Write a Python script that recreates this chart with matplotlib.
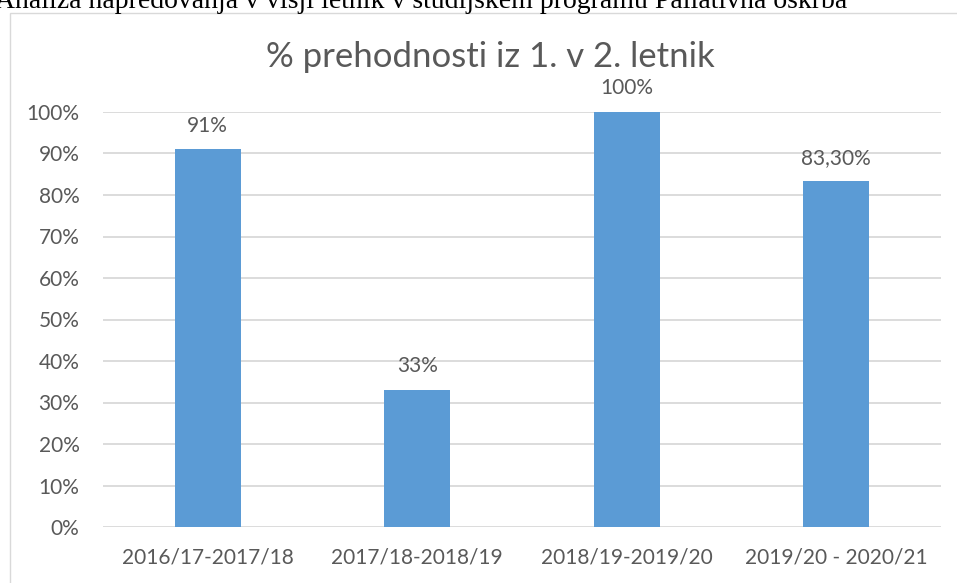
import matplotlib.pyplot as plt
from matplotlib.patches import Rectangle
from matplotlib.ticker import PercentFormatter

categories = ["2016/17-2017/18", "2017/18-2018/19", "2018/19-2019/20", "2019/20 - 2020/21"]
values = [91, 33, 100, 83.3]
value_labels = ["91%", "33%", "100%", "83,30%"]

bar_color = "#5B9BD5"
text_color = "#595959"
grid_color = "#D9D9D9"

plt.rcParams['font.family'] = ['Lato', 'DejaVu Sans']

W, H = 957, 583
fig = plt.figure(figsize=(W / 100, H / 100), dpi=100)
ax = fig.add_axes([103 / W, 1 - 527 / H, 838 / W, 415 / H])

x = range(len(categories))
ax.bar(x, values, width=0.315, color=bar_color, zorder=3)
for xi, v, lab in zip(x, values, value_labels):
    ax.annotate(lab, (xi, v), xytext=(0, 17), textcoords="offset points",
                ha="center", va="center", fontsize=15, color=text_color)

ax.set_xlim(-0.5, len(categories) - 0.5)
ax.set_ylim(0, 100)
ax.set_yticks(range(0, 101, 10))
ax.yaxis.set_major_formatter(PercentFormatter(decimals=0))
ax.set_xticks(list(x))
ax.set_xticklabels(categories)
ax.tick_params(axis="both", length=0, labelsize=15, labelcolor=text_color)
ax.tick_params(axis="x", pad=15)
ax.tick_params(axis="y", pad=17)
ax.grid(axis="y", color=grid_color, linewidth=1.3, zorder=0)
for s in ax.spines.values():
    s.set_visible(False)

fig.text(490 / W, 1 - 57 / H, "% prehodnosti iz 1. v 2. letnik", fontsize=25,
         color=text_color, ha="center", va="center")

# chart frame
fig.patches.append(Rectangle((10 / W, -0.01), 960 / W, 1 - 13 / H + 0.01,
                             transform=fig.transFigure, fill=False,
                             edgecolor=grid_color, linewidth=1))

fig.text(-5 / W, 1 - 8 / H, "Analiza napredovanja v višji letnik v študijskem programu Paliativna oskrba",
         family=["Liberation Serif"], fontsize=20, color="black", va="baseline", ha="left")

fig.savefig("out.png", dpi=100)
